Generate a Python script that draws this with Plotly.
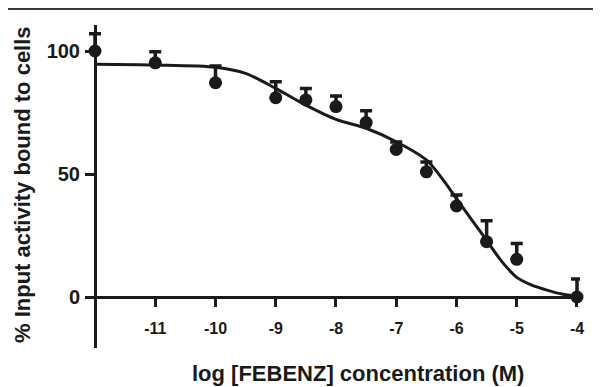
import plotly.graph_objects as go

# Data
log_conc = [-12, -11, -10, -9, -8.5, -8, -7.5, -7, -6.5, -6, -5.5, -5, -4]
pct_bound = [100.0, 95.2, 87.1, 81.0, 80.1, 77.4, 70.9, 60.0, 50.9, 37.0, 22.5, 15.3, 0.0]
err_up = [7.0, 4.5, 6.8, 6.5, 4.7, 4.3, 4.8, 3.0, 4.0, 4.5, 8.5, 6.5, 7.3]

# Fitted curve, read at sample points from the reference
fit_x = [-12, -11, -10, -9.5, -9, -8.5, -8, -7.5, -7, -6.5, -6.25, -6, -5.75,
         -5.5, -5.25, -5, -4.75, -4.5, -4.25, -4]
fit_y = [94.6, 94.3, 93.4, 90.9, 84.8, 78.0, 72.2, 68.6, 63.1, 55.7, 48.5, 40.0, 31.5,
         23.0, 14.5, 8.0, 4.8, 2.8, 1.2, 0.3]

x_ticks = [-11, -10, -9, -8, -7, -6, -5, -4]
y_ticks = [0, 50, 100]

INK = "#1a1a1a"
FONT = "Liberation Sans"

fig = go.Figure()
fig.add_trace(go.Scatter(
    x=fit_x, y=fit_y, mode="lines",
    line=dict(color=INK, width=3, shape="spline", smoothing=0.8),
    hoverinfo="skip", cliponaxis=False,
))
fig.add_trace(go.Scatter(
    x=log_conc, y=pct_bound, mode="markers",
    marker=dict(color=INK, size=13),
    error_y=dict(type="data", symmetric=False, array=err_up,
                 arrayminus=[0] * len(err_up), color=INK,
                 thickness=3.5, width=6),
    cliponaxis=False,
))

# The page adds an 8 px body margin; lay out in page pixels minus that offset.
OFF = 8
W, H = 601 - OFF, 387 - OFF
L, T = 85 - OFF, 25 - OFF
R = W - (580 - OFF)
B = H - (348 - OFF)
pw, ph = W - L - R, H - T - B


def px(xp):  # reference page x -> paper x
    return (xp - OFF - L) / pw


def py(yp):  # reference page y -> paper y
    return (H - B - (yp - OFF)) / ph


fig.update_layout(
    width=W, height=H,
    margin=dict(l=L, r=R, t=T, b=B),
    plot_bgcolor="white", paper_bgcolor="white",
    showlegend=False,
    font=dict(family=FONT, color=INK),
    xaxis=dict(
        range=[-12.166, -3.95], showgrid=False, zeroline=False,
        showline=True, linecolor=INK, linewidth=3,
        anchor="free", position=py(297),
        tickmode="array", tickvals=x_ticks,
        ticktext=[str(v) for v in x_ticks],
        ticks="outside", ticklen=8, tickwidth=3, tickcolor=INK,
        tickfont=dict(family=FONT, size=16, color=INK, weight="bold"),
        ticklabelstandoff=8,
    ),
    yaxis=dict(
        range=[-20.73, 110.57], showgrid=False, zeroline=False,
        showline=True, linecolor=INK, linewidth=3,
        anchor="free", position=px(95),
        tickmode="array", tickvals=y_ticks,
        ticktext=[str(v) for v in y_ticks],
        ticks="outside", ticklen=9, tickwidth=3, tickcolor=INK,
        tickfont=dict(family=FONT, size=20, color=INK, weight="bold"),
        ticklabelstandoff=1,
    ),
    annotations=[
        dict(text="<b>log [FEBENZ] concentration (M)</b>", xref="paper", yref="paper",
             x=px(358), y=py(373), showarrow=False,
             xanchor="center", yanchor="middle",
             font=dict(family=FONT, size=22, color=INK)),
        dict(text="<b>% Input activity bound to cells</b>", xref="paper", yref="paper",
             x=px(23), y=py(185), showarrow=False, textangle=-90,
             xanchor="center", yanchor="middle",
             font=dict(family=FONT, size=22, color=INK)),
    ],
    shapes=[
        dict(type="line", xref="paper", yref="paper",
             x0=px(0), x1=px(601 + 20),
             y0=py(OFF + 1), y1=py(OFF + 1),
             line=dict(color="#3a3a3a", width=2)),
    ],
)

fig.write_html("out.html")
